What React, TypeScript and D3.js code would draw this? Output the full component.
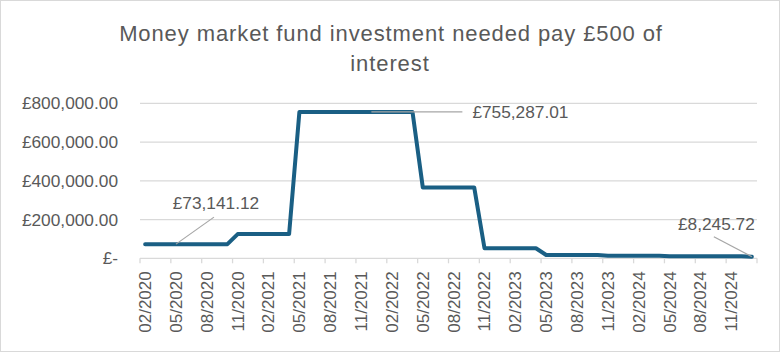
import React from "react";
import * as d3 from "d3";

const categories: string[] = [
  "02/2020","03/2020","04/2020","05/2020","06/2020","07/2020","08/2020","09/2020","10/2020","11/2020","12/2020",
  "01/2021","02/2021","03/2021","04/2021","05/2021","06/2021","07/2021","08/2021","09/2021","10/2021","11/2021","12/2021",
  "01/2022","02/2022","03/2022","04/2022","05/2022","06/2022","07/2022","08/2022","09/2022","10/2022","11/2022","12/2022",
  "01/2023","02/2023","03/2023","04/2023","05/2023","06/2023","07/2023","08/2023","09/2023","10/2023","11/2023","12/2023",
  "01/2024","02/2024","03/2024","04/2024","05/2024","06/2024","07/2024","08/2024","09/2024","10/2024","11/2024","12/2024",
  "01/2025",
];

const values: number[] = [
  73141.12, 73141.12, 73141.12, 73141.12, 73141.12, 73141.12, 73141.12, 73141.12, 73141.12,
  125000, 125000, 125000, 125000, 125000, 125000,
  755287.01, 755287.01, 755287.01, 755287.01, 755287.01, 755287.01, 755287.01, 755287.01, 755287.01, 755287.01, 755287.01, 755287.01,
  366000, 366000, 366000, 366000, 366000, 366000,
  52000, 52000, 52000, 52000, 52000, 52000,
  17000, 17000, 17000, 17000, 17000, 17000,
  13000, 13000, 13000, 13000, 13000, 13000,
  10500, 10500, 10500, 10500, 10500, 10500, 10500, 10500,
  8245.72,
];

const yTicks: number[] = [0, 200000, 400000, 600000, 800000];
const labelledPoints: { index: number; text: string }[] = [
  { index: 3, text: "£73,141.12" },
  { index: 22, text: "£755,287.01" },
  { index: 59, text: "£8,245.72" },
];

const W = 780;
const H = 352;
const plot = { left: 140, right: 757, top: 103.3, bottom: 258.3 };
const textColor = "#595959";
const gridColor = "#d9d9d9";
const lineColor = "#1a5f84";
const font = "'Liberation Sans', Arial, sans-serif";
const fs = 17.3;

const fmtY = (v: number) => (v === 0 ? "£-" : "£" + d3.format(",.2f")(v));

export default function App() {
  const x = d3.scaleBand<string>().domain(categories).range([plot.left, plot.right]).padding(0);
  const cx = (c: string) => (x(c) as number) + x.bandwidth() / 2;
  const y = d3.scaleLinear().domain([0, 800000]).range([plot.bottom, plot.top]);

  const line = d3
    .line<number>()
    .x((_, i) => cx(categories[i]))
    .y((d) => y(d));

  const tickIdx = d3.range(0, categories.length + 1, 3);
  const labelIdx = d3.range(0, categories.length, 3);

  const lp = labelledPoints.map((p) => ({ ...p, px: cx(categories[p.index]), py: y(values[p.index]) }));

  return (
    <>
      <style>{`body{margin:0}`}</style>
      <svg width={W} height={H} style={{ display: "block", background: "#fff" }}>
        <rect x={0.5} y={0.5} width={W - 1} height={H - 1} fill="#fff" stroke={gridColor} />
        <text x={W / 2 + 1} y={41} textAnchor="middle" fontFamily={font} fontSize={22} letterSpacing={0.9} fill={textColor}>
          Money market fund investment needed pay £500 of
        </text>
        <text x={W / 2} y={71} textAnchor="middle" fontFamily={font} fontSize={22} letterSpacing={0.9} fill={textColor}>
          interest
        </text>

        {yTicks.map((t) => (
          <g key={t}>
            <line x1={plot.left} x2={plot.right} y1={y(t)} y2={y(t)} stroke={gridColor} strokeWidth={1.3} />
            <text x={118} y={y(t)} dy="0.35em" textAnchor="end" fontFamily={font} fontSize={fs} fill={textColor}>
              {fmtY(t)}
            </text>
          </g>
        ))}

        {tickIdx.map((i) => {
          const xx = i < categories.length ? (x(categories[i]) as number) : plot.right;
          return <line key={i} x1={xx} x2={xx} y1={plot.bottom} y2={plot.bottom + 5} stroke={gridColor} strokeWidth={1.3} />;
        })}

        {labelIdx.map((i) => {
          const xx = cx(categories[i]);
          return (
            <text
              key={i}
              transform={`translate(${xx},${plot.bottom + 13}) rotate(-90)`}
              textAnchor="end"
              dy="0.35em"
              fontFamily={font}
              fontSize={17}
              fill={textColor}
            >
              {categories[i]}
            </text>
          );
        })}

        <path d={line(values) || ""} fill="none" stroke={lineColor} strokeWidth={4} strokeLinejoin="round" strokeLinecap="round" />

        {/* data labels */}
        <line x1={lp[0].px} y1={lp[0].py} x2={lp[0].px + 38} y2={lp[0].py - 27} stroke="#a6a6a6" strokeWidth={1.2} />
        <text x={lp[0].px + 40} y={lp[0].py - 35} textAnchor="middle" fontFamily={font} fontSize={fs} fill={textColor}>
          {lp[0].text}
        </text>

        <line x1={lp[1].px} y1={lp[1].py} x2={lp[1].px + 91} y2={lp[1].py} stroke="#a6a6a6" strokeWidth={1.2} />
        <text x={lp[1].px + 101} y={lp[1].py} dy="0.35em" textAnchor="start" fontFamily={font} fontSize={fs} fill={textColor}>
          {lp[1].text}
        </text>

        <line x1={lp[2].px} y1={lp[2].py} x2={lp[2].px - 38} y2={lp[2].py - 20} stroke="#a6a6a6" strokeWidth={1.2} />
        <text x={lp[2].px + 3} y={lp[2].py - 27} textAnchor="end" fontFamily={font} fontSize={fs} fill={textColor}>
          {lp[2].text}
        </text>
      </svg>
    </>
  );
}
